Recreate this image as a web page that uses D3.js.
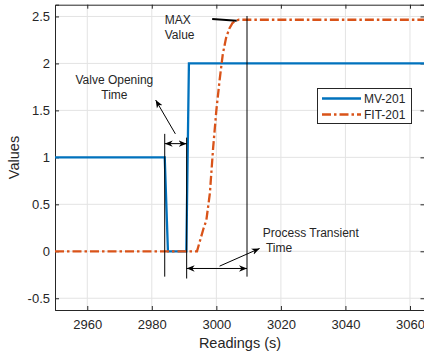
<!DOCTYPE html>
<html><head><meta charset="utf-8">
<script src="https://cdn.jsdelivr.net/npm/d3@7"></script>
<style>
html,body{margin:0;padding:0;background:#fff;}
svg text{font-family:"Liberation Sans",Arial,Helvetica,sans-serif;fill:#262626;}
</style></head>
<body>
<svg id="chart" width="424" height="356"></svg>
<script>
// ---- data ----
const mvTime  = [2950, 2984, 2985, 2990.7, 2991.5, 3065];
const mvValue = [1, 1, 0, 0, 2, 2];
const fitTime  = [2950, 2994, 2995, 2996, 2996.9, 2998, 2999, 3000, 3001, 3002, 3003, 3004, 3005, 3006, 3007, 3065];
const fitValue = [0, 0, 0.12, 0.24, 0.33, 0.62, 1.1, 1.5, 1.82, 2.1, 2.27, 2.37, 2.43, 2.455, 2.465, 2.465];
const xTicks = [2960, 2980, 3000, 3020, 3040, 3060];
const yTicks = [-0.5, 0, 0.5, 1, 1.5, 2, 2.5];
const seriesNames = ["MV-201", "FIT-201"];
// annotation lines in data coordinates: [x1,y1,x2,y2, arrowStart, arrowEnd]
const annLines = [
  [2984.0, 1.25, 2984.0, -0.27, false, false],
  [2990.8, 1.21, 2990.8, -0.29, false, false],
  [2984.0, 1.146, 2990.8, 1.146, true, true],
  [2987.3, 1.25, 2981.2, 1.61, false, true],
  [3009.5, 2.505, 3009.5, -0.27, false, false],
  [2990.8, -0.183, 3009.5, -0.183, true, true],
  [3001.0, -0.158, 3013.4, 0.03, false, true]
];
const annTexts = [
  {x: 2968.4, y: 1.78, lines: ["Valve Opening", "Time"], anchor: "middle"},
  {x: 3014.4, y: 0.155, lines: ["Process Transient", " Time"], anchor: "start"},
  {x: 2984.0, y: 2.415, lines: ["MAX", "Value"], anchor: "start"}
];
const maxLine = [2998.7, 2.473, 3006.3, 2.455];

// ---- layout ----
const svg = d3.select("#chart");
const L = 55, R = 424.5, T = 4.7, B = 310;
const x = d3.scaleLinear().domain([2950, 3064.5]).range([L, R]);
const y = d3.scaleLinear().domain([-0.625, 2.625]).range([B, T]);
const blue = "#0072BD", orange = "#D95319", axisCol = "#262626";
const dash = "9,3,2.5,3";

svg.append("defs").html(
 '<marker id="ah" viewBox="0 0 10 10" refX="10" refY="5" markerWidth="8" markerHeight="8" markerUnits="userSpaceOnUse" orient="auto-start-reverse"><path d="M0,1 L10,5 L0,9 L3,5 Z" fill="#000"/></marker>');

// grid
const g = svg.append("g");
g.selectAll(".gx").data(xTicks).enter().append("line")
 .attr("x1", d => x(d)).attr("x2", d => x(d)).attr("y1", T).attr("y2", B)
 .attr("stroke", "#e3e3e3").attr("stroke-width", 1);
g.selectAll(".gy").data(yTicks).enter().append("line")
 .attr("x1", L).attr("x2", R).attr("y1", d => y(d)).attr("y2", d => y(d))
 .attr("stroke", "#e3e3e3").attr("stroke-width", 1);

// axes
const xAxis = d3.axisBottom(x).tickValues(xTicks).tickSize(-4).tickPadding(10).tickFormat(d3.format("d"));
const xAxisTop = d3.axisTop(x).tickValues(xTicks).tickSize(-4).tickFormat("");
const yAxis = d3.axisLeft(y).tickValues(yTicks).tickSize(-4).tickPadding(5).tickFormat(d => d);
const yAxisR = d3.axisRight(y).tickValues(yTicks).tickSize(-4).tickFormat("");
function style(sel){
  sel.select(".domain").attr("stroke", axisCol).attr("stroke-width", 1);
  sel.selectAll(".tick line").attr("stroke", axisCol);
  sel.selectAll("text").attr("fill", axisCol).style("font-size", "13px").style("font-family", '"Liberation Sans",Arial,sans-serif');
}
svg.append("g").attr("transform", `translate(0,${B})`).call(xAxis).call(style);
svg.append("g").attr("transform", `translate(0,${T})`).call(xAxisTop).call(style);
svg.append("g").attr("transform", `translate(${L},0)`).call(yAxis).call(style);
svg.append("g").attr("transform", `translate(${R},0)`).call(yAxisR).call(style);

// series
const line = d3.line().x(d => x(d[0])).y(d => y(d[1]));
const mv = mvTime.map((t, i) => [t, mvValue[i]]);
const fit = fitTime.map((t, i) => [t, fitValue[i]]);
svg.append("clipPath").attr("id", "clip").append("rect")
  .attr("x", L).attr("y", T).attr("width", R - L).attr("height", B - T);
const plot = svg.append("g").attr("clip-path", "url(#clip)");
plot.append("path").datum(mv).attr("d", line).attr("fill", "none")
  .attr("stroke", blue).attr("stroke-width", 2.3);
plot.append("path").datum(fit).attr("d", line).attr("fill", "none")
  .attr("stroke", orange).attr("stroke-width", 2.3).attr("stroke-dasharray", dash);

// annotations
const ann = svg.append("g");
ann.selectAll(".al").data(annLines).enter().append("line")
  .attr("x1", d => x(d[0])).attr("y1", d => y(d[1]))
  .attr("x2", d => x(d[2])).attr("y2", d => y(d[3]))
  .attr("stroke", "#000").attr("stroke-width", 1)
  .attr("marker-start", d => d[4] ? "url(#ah)" : null)
  .attr("marker-end", d => d[5] ? "url(#ah)" : null);
ann.append("line").attr("x1", x(maxLine[0])).attr("y1", y(maxLine[1]))
  .attr("x2", x(maxLine[2])).attr("y2", y(maxLine[3]))
  .attr("stroke", "#000").attr("stroke-width", 2);
annTexts.forEach(a => {
  const t = ann.append("text").attr("x", x(a.x)).attr("y", y(a.y))
    .attr("text-anchor", a.anchor).style("font-size", "12px").attr("fill", "#262626");
  a.lines.forEach((s, i) => t.append("tspan").attr("x", x(a.x)).attr("dy", i ? 15 : 0)
    .style("white-space", "pre").text(s));
});

// legend
const lg = svg.append("g");
lg.append("rect").attr("x", 317.5).attr("y", 88.5).attr("width", 94).attr("height", 35)
  .attr("fill", "#fff").attr("stroke", axisCol).attr("stroke-width", 1);
[blue, orange].forEach((c, i) => {
  const yy = 98.5 + i * 16;
  lg.append("line").attr("x1", 322).attr("x2", 361).attr("y1", yy).attr("y2", yy)
    .attr("stroke", c).attr("stroke-width", 2.3).attr("stroke-dasharray", i ? dash : null);
  lg.append("text").attr("x", 364).attr("y", yy + 4.3).style("font-size", "12px").text(seriesNames[i]);
});

// axis labels
svg.append("text").attr("x", 240).attr("y", 348).attr("text-anchor", "middle")
  .style("font-size", "14.5px").text("Readings (s)");
svg.append("text").attr("transform", `translate(19.3,157.5) rotate(-90)`).attr("text-anchor", "middle")
  .style("font-size", "14.5px").text("Values");
</script>
</body></html>
